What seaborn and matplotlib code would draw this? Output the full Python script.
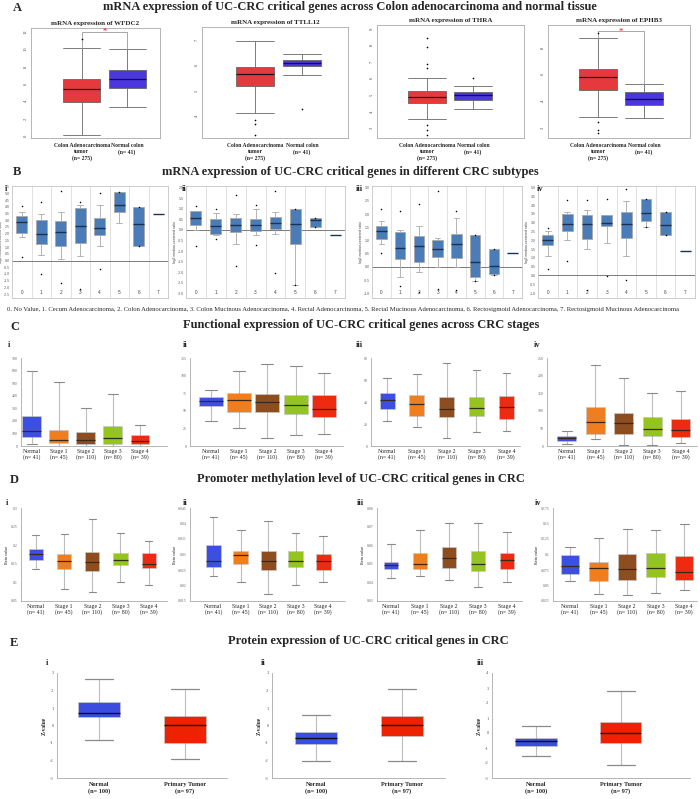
import numpy as np
import pandas as pd
import seaborn as sns
import matplotlib.pyplot as plt

W, H = 700, 799

# ---- A: mRNA expression tumour vs normal  [whisker low, q1, median, q3, whisker high]
A_GROUPS = ["Colon Adenocarcinoma\ntumor\n(n= 275)", "Normal colon\n(n= 41)"]
A_WFDC2 = [[0.15, 3.9, 5.45, 6.6, 10.1], [3.35, 5.5, 6.5, 7.6, 9.95]]
A_TTLL12 = [[4.1, 5.18, 5.64, 5.95, 6.95], [5.63, 5.96, 6.08, 6.2, 6.43]]
A_THRA = [[3.56, 4.5, 4.86, 5.24, 6.0], [4.16, 4.72, 5.02, 5.18, 5.56]]
A_EPHB3 = [[2.8, 4.83, 5.78, 6.38, 8.7], [2.68, 3.68, 4.15, 4.63, 5.25]]
# single points outside the whiskers
A_WFDC2_PTS = [[11.2], []]
A_TTLL12_PTS = [[3.84, 3.7, 3.26], [4.26]]
A_THRA_PTS = [[8.4, 7.9, 6.84, 6.6, 3.2, 2.9, 2.6], [6.0]]
A_EPHB3_PTS = [[9.1, 2.4, 1.8, 1.6], []]

# ---- B: CRC subtypes 0..7
B_GROUPS = ["0", "1", "2", "3", "4", "5", "6", "7"]
B1 = [[1.75, 2.05, 2.9, 3.35, 3.65], [0.4, 1.25, 2.0, 3.0, 3.5], [0.1, 1.1, 2.15, 2.95, 3.65],
      [0.35, 1.3, 2.6, 3.9, 4.1], [1.05, 1.9, 2.4, 3.15, 4.1], [2.8, 3.6, 4.1, 5.1, 5.1],
      [1.1, 1.1, 2.7, 4.0, 4.0], [3.5, 3.5, 3.5, 3.5, 3.5]]
B1_OUT = [[4.05, 0.3], [4.35, -1.0], [5.2, -1.7], [4.35, -2.15], [5.0, -0.65], [5.1], [4.0, 1.1], []]
B2 = [[-0.02, 0.25, 0.57, 0.9, 0.9], [-0.25, -0.18, 0.2, 0.5, 0.8], [-0.65, -0.12, 0.25, 0.55, 0.75],
      [-0.22, -0.05, 0.22, 0.5, 1.0], [-0.18, 0.05, 0.35, 0.6, 0.87], [-2.6, -0.65, 0.28, 0.98, 0.98],
      [0.12, 0.12, 0.45, 0.55, 0.55], [-0.22, -0.22, -0.22, -0.22, -0.22]]
B2_OUT = [[1.12, -0.75], [0.97, -0.42], [1.65, -1.7], [1.18, -0.7], [1.85, -2.05], [-2.6, 0.98], [0.55, 0.12], []]
B3 = [[0.85, 1.05, 1.37, 1.55, 1.75], [-0.38, 0.3, 0.72, 1.33, 1.4], [-0.18, 0.2, 0.77, 1.15, 1.55],
      [-0.02, 0.38, 0.67, 1.02, 1.1], [0.0, 0.33, 0.88, 1.25, 1.85], [-0.52, -0.37, 0.18, 1.22, 1.22],
      [-0.3, -0.28, 0.05, 0.68, 0.68], [0.53, 0.53, 0.53, 0.53, 0.53]]
B3_OUT = [[2.2, 0.52], [2.1, -0.72], [2.38, -0.95], [2.88, -0.85], [2.1, -0.88], [1.22, -0.52], [0.68, -0.3], []]
B4 = [[1.13, 1.72, 2.0, 2.3, 2.5], [2.02, 2.55, 2.9, 3.48, 3.62], [1.5, 2.08, 2.93, 3.42, 3.7],
      [1.83, 2.83, 3.0, 3.42, 3.45], [1.08, 2.15, 2.95, 3.62, 4.2], [2.73, 3.1, 3.57, 4.33, 4.33],
      [2.3, 2.3, 2.85, 3.6, 3.6], [1.38, 1.38, 1.38, 1.38, 1.38]]
B4_OUT = [[2.7, 0.35], [4.3, 0.82], [4.28, -0.85], [4.37, -0.05], [4.9, -0.28], [4.33, 2.73], [3.6, 2.3], []]
B_NOTE = ("0. No Value, 1. Cecum Adenocarcinoma, 2. Colon Adenocarcinoma, 3. Colon Mucinous Adenocarcinoma, "
          "4. Rectal Adenocarcinoma, 5. Rectal Mucinous Adenocarcinoma, 6. Rectosigmoid Adenocarcinoma, "
          "7. Rectosigmoid Mucinous Adenocarcinoma")

# ---- C / D: stages
STAGES = ["Normal\n(n= 41)", "Stage 1\n(n= 45)", "Stage 2\n(n= 110)", "Stage 3\n(n= 80)", "Stage 4\n(n= 39)"]
C1 = [[13, 69, 120, 235, 596], [3, 24, 51, 125, 508], [3, 19, 45, 112, 299], [3, 19, 67, 163, 411], [3, 13, 43, 85, 168]]
C2 = [[36, 57, 64, 69, 79], [26, 48, 66, 75, 107], [12, 48, 62, 74, 116], [16, 46, 58, 72.5, 113.5], [17.6, 41, 52, 72.5, 103.5]]
C3 = [[23, 33.6, 41.8, 48.5, 61.7], [17.4, 27.2, 38.2, 46.4, 65.6], [7.6, 26, 33.6, 44.9, 75.4],
      [12.8, 27.5, 34.5, 44.3, 69], [14, 25, 35.7, 45.8, 66]]
C4 = [[4.8, 15.3, 22, 27.7, 43], [19, 34.4, 67.7, 111.6, 229], [2.9, 34.4, 64, 93.5, 192],
      [3.8, 29.6, 48.7, 81, 150], [8.6, 25.8, 45.8, 78, 155.5]]
D1 = [[0.1355, 0.1615, 0.177, 0.191, 0.228], [0.081, 0.136, 0.158, 0.177, 0.23], [0.075, 0.131, 0.156, 0.181, 0.27],
      [0.102, 0.147, 0.16, 0.179, 0.233], [0.092, 0.138, 0.149, 0.178, 0.21]]
D2 = [[0.023, 0.026, 0.028, 0.033, 0.042], [0.021, 0.027, 0.0299, 0.031, 0.0379], [0.0172, 0.025, 0.028, 0.031, 0.0409],
      [0.0202, 0.026, 0.028, 0.031, 0.0369], [0.021, 0.025, 0.028, 0.0301, 0.036]]
D3 = [[0.0422, 0.0471, 0.0491, 0.0509, 0.0609], [0.0435, 0.0471, 0.05, 0.0559, 0.068], [0.0411, 0.048, 0.053, 0.0591, 0.0719],
      [0.0374, 0.0462, 0.0498, 0.057, 0.0719], [0.0402, 0.0471, 0.052, 0.0559, 0.0669]]
D4 = [[0.0574, 0.0692, 0.0822, 0.0984, 0.1113], [0.0363, 0.058, 0.0779, 0.0887, 0.1264], [0.0347, 0.059, 0.0762, 0.101, 0.1415],
      [0.0374, 0.0638, 0.0779, 0.1027, 0.1394], [0.0422, 0.059, 0.0725, 0.0978, 0.1486]]

# ---- E: protein
E_GROUPS = ["Normal\n(n= 100)", "Primary Tumor\n(n= 97)"]
E1 = [[-0.83, 0.47, 0.71, 1.32, 2.66], [-1.91, -1.0, 0.03, 0.56, 2.09]]
E2 = [[-2.0, -1.06, -0.71, -0.37, 0.6], [-2.03, -0.58, 0.01, 0.56, 2.1]]
E3 = [[-1.56, -0.87, -0.53, -0.33, 0.44], [-2.16, -0.67, 0.0, 0.73, 2.78]]

A_COLORS = ["#E5393D", "#4B37DF"]
B_BLUE = "#4A7DB8"
STAGE_COLORS = ["#3D4FE0", "#F07E1E", "#8E4D1E", "#93C41F", "#EE2A10"]
E_COLORS = ["#3A4DE0", "#EE2200"]

sns.set_theme(style="white")
plt.rcParams["font.family"] = ["Liberation Serif", "DejaVu Serif"]
SANS = ["Liberation Sans", "DejaVu Sans"]

fig = plt.figure(figsize=(7, 7.99), dpi=100)


def rect(l, t, r, b):
    return [l / W, 1 - b / H, (r - l) / W, (b - t) / H]


def ftext(x, y, s, **kw):
    kw.setdefault("va", "center")
    fig.text(x / W, 1 - y / H, s, **kw)


def long_frame(groups, values):
    rows = [(g, v) for g, vs in zip(groups, values) for v in vs]
    return pd.DataFrame(rows, columns=["group", "value"])


def ticks(lo, hi, step):
    return np.round(np.arange(lo, hi + step / 2, step), 4)


# ---------------- A ----------------
def draw_a(box, gene, stats, pts, xlim, ylim, yt, sig=None):
    ax = fig.add_axes(rect(*box))
    sns.boxplot(data=long_frame(A_GROUPS, stats), x="group", y="value", hue="group",
                order=A_GROUPS, hue_order=A_GROUPS, palette=A_COLORS, saturation=1,
                width=0.82, whis=(0, 100), showfliers=False, linecolor="#666666", linewidth=0.6,
                medianprops=dict(color="#151515", linewidth=0.9), capwidths=0.82, legend=False, ax=ax)
    p = long_frame(A_GROUPS, pts)
    sns.stripplot(data=p, x="group", y="value", order=A_GROUPS, color="black", size=1.2,
                  jitter=False, ax=ax)
    if sig is not None:
        ax.plot([0, 0, 1, 1], [stats[0][4], sig, sig, stats[1][4]], color="#999999", lw=0.6)
        ax.text(0.5, sig, "*", color="red", ha="center", va="center", fontsize=6)
    ax.set_xlim(xlim)
    ax.set_ylim(ylim)
    ax.set_yticks(yt)
    ax.set_yticklabels([f"{t:g}" for t in yt], rotation=90, va="center", fontsize=3.3, color="#444444")
    ax.set_xlabel("")
    ax.set_ylabel("")
    ax.tick_params(axis="y", length=1.5, width=0.4, pad=1)
    ax.tick_params(axis="x", length=1.5, width=0.4, pad=2, labelsize=4.1)
    for t in ax.get_xticklabels():
        t.set_fontweight("bold")
        t.set_linespacing(1.25)
    for s in ax.spines.values():
        s.set_color("#aaaaaa")
        s.set_linewidth(0.6)
    ax.set_title(f"mRNA expression of {gene}", fontsize=5, fontweight="bold", pad=2.5)


ftext(13, 8, "A", fontsize=9, fontweight="bold")
ftext(350, 7, "mRNA expression of UC-CRC critical genes across Colon adenocarcinoma and normal tissue",
      fontsize=9, fontweight="bold", ha="center")
draw_a((31, 28, 160, 138), "WFDC2", A_WFDC2, A_WFDC2_PTS, (-1.13, 1.73), (-0.23, 12.41), ticks(0, 12, 2), sig=12.0)
draw_a((202, 27, 348, 138), "TTLL12", A_TTLL12, A_TTLL12_PTS, (-1.13, 1.98), (3.13, 7.51), ticks(4, 7, 1))
draw_a((377, 25, 524, 138), "THRA", A_THRA, A_THRA_PTS, (-1.09, 2.11), (2.42, 9.2), ticks(3, 9, 1))
draw_a((548, 25, 690, 138), "EPHB3", A_EPHB3, A_EPHB3_PTS, (-1.09, 2.0), (1.2, 9.68), ticks(2, 8, 2), sig=9.2)


# ---------------- B ----------------
def draw_b(box, label, lx, stats, outs, ylim, yt):
    ax = fig.add_axes(rect(*box))
    for x in np.arange(0.5, 7.5, 1):
        ax.axvline(x, color="#d4d4d4", lw=0.5, zorder=0)
    ax.axhline(0, color="#7a7a7a", lw=0.7, zorder=0)
    sns.boxplot(data=long_frame(B_GROUPS, stats), x="group", y="value", order=B_GROUPS,
                color=B_BLUE, saturation=1, width=0.55, whis=(0, 100), showfliers=False,
                linecolor="#a8a8a8", linewidth=0.6, capwidths=0.3,
                medianprops=dict(color="#1b3152", linewidth=1.0), ax=ax)
    sns.stripplot(data=long_frame(B_GROUPS, outs), x="group", y="value", order=B_GROUPS,
                  color="black", size=1.1, jitter=False, ax=ax)
    ax.set_xlim(-0.5, 7.5)
    ax.set_ylim(ylim)
    ax.set_yticks(yt)
    ax.set_yticklabels([f"{t:.1f}" for t in yt], fontsize=2.5, color="#555555", family=SANS)
    ax.set_xticks(range(8))
    ax.set_xticklabels(B_GROUPS, fontsize=3.4, color="#444444", family=SANS)
    ax.tick_params(axis="x", length=0, pad=-6)
    ax.tick_params(axis="y", length=1, width=0.4, pad=0.5)
    ax.set_xlabel("")
    ax.set_ylabel("log2 median-centered ratio", fontsize=2.5, labelpad=0.5, family=SANS, color="#444444")
    for s in ax.spines.values():
        s.set_color("#c4c4c4")
        s.set_linewidth(0.6)
    ftext(lx, 189, label, fontsize=6, fontweight="bold")


ftext(13, 172, "B", fontsize=9, fontweight="bold")
ftext(350, 172, "mRNA expression of UC-CRC critical genes in different CRC subtypes",
      fontsize=9, fontweight="bold", ha="center")
draw_b((12, 186, 168, 298), "i", 5, B1, B1_OUT, (-2.79, 5.55), ticks(-2.5, 5.5, 0.5))
draw_b((186, 186, 345, 298), "ii", 182, B2, B2_OUT, (-3.22, 2.08), ticks(-3.0, 2.0, 0.5))
draw_b((372, 186, 522, 298), "iii", 356, B3, B3_OUT, (-1.18, 3.06), ticks(-1.0, 3.0, 0.5))
draw_b((538, 186, 695, 298), "iv", 537, B4, B4_OUT, (-1.28, 5.08), ticks(-1.0, 5.0, 0.5))
ftext(7, 309, B_NOTE, fontsize=4.8, ha="left")


# ---------------- C / D ----------------
def draw_stage(box, label, lxy, stats, xlim, width, ylim, yt, ylabel=None):
    ax = fig.add_axes(rect(*box))
    sns.boxplot(data=long_frame(STAGES, stats), x="group", y="value", hue="group",
                order=STAGES, hue_order=STAGES, palette=STAGE_COLORS, saturation=1,
                width=width, whis=(0, 100), showfliers=False, linecolor="#c8c8c8", linewidth=0.5,
                whiskerprops=dict(color="#8a8a8a", linestyle=(0, (1, 0.8)), linewidth=0.8),
                capprops=dict(color="#8a8a8a", linewidth=0.8), capwidths=width * 0.5,
                medianprops=dict(color="#3a2818", linewidth=0.9), legend=False, ax=ax)
    ax.set_xlim(xlim)
    ax.set_ylim(ylim)
    ax.set_yticks(yt)
    ax.set_yticklabels([f"{t:g}" for t in yt], fontsize=2.8, color="#666666")
    ax.set_xticks(range(5))
    ax.set_xticklabels(STAGES, fontsize=4.2, linespacing=1.2)
    ax.tick_params(axis="x", length=0, pad=2)
    ax.tick_params(axis="y", length=1.5, width=0.4, pad=1, color="#999999")
    ax.set_xlabel("")
    ax.set_ylabel(ylabel if ylabel else "", fontsize=2.8, labelpad=1, family=SANS)
    sns.despine(ax=ax)
    for s in ("left", "bottom"):
        ax.spines[s].set_color("#aaaaaa")
        ax.spines[s].set_linewidth(0.6)
    ftext(lxy[0], lxy[1], label, fontsize=6, fontweight="bold")


ftext(10, 327, "C", fontsize=9, fontweight="bold")
ftext(361, 325, "Functional expression of UC-CRC critical genes across CRC stages",
      fontsize=9, fontweight="bold", ha="center")
draw_stage((21, 358, 167, 446), "i", (8, 345), C1, (-0.4, 5.0), 0.7, (0, 700), ticks(0, 700, 100))
draw_stage((190, 358, 343, 446), "ii", (183, 345), C2, (-0.74, 4.68), 0.85, (0, 125), ticks(0, 125, 25))
draw_stage((371, 358, 520, 446), "iii", (356, 345), C3, (-0.54, 4.46), 0.5, (0, 80), ticks(0, 80, 20))
draw_stage((547, 358, 697, 446), "iv", (534, 345), C4, (-0.7, 4.58), 0.67, (0, 250), ticks(0, 250, 50))

ftext(10, 480, "D", fontsize=9, fontweight="bold")
ftext(361, 479, "Promoter methylation level of UC-CRC critical genes in CRC",
      fontsize=9, fontweight="bold", ha="center")
draw_stage((21, 508, 167, 601), "i", (6, 503), D1, (-0.53, 4.65), 0.5, (0.05, 0.3), ticks(0.05, 0.3, 0.05), "Beta value")
draw_stage((190, 508, 345, 601), "ii", (183, 503), D2, (-0.85, 4.8), 0.55, (0.015, 0.045), ticks(0.015, 0.045, 0.005), "Beta value")
draw_stage((377, 508, 522, 601), "iii", (357, 503), D3, (-0.48, 4.52), 0.5, (0.03, 0.08), ticks(0.03, 0.08, 0.01), "Beta value")
draw_stage((553, 508, 697, 601), "iv", (535, 503), D4, (-0.6, 4.45), 0.65, (0.025, 0.175), ticks(0.025, 0.175, 0.025), "Beta value")


# ---------------- E ----------------
def draw_e(box, label, lx, stats, xlim, ylim, yt):
    ax = fig.add_axes(rect(*box))
    sns.boxplot(data=long_frame(E_GROUPS, stats), x="group", y="value", hue="group",
                order=E_GROUPS, hue_order=E_GROUPS, palette=E_COLORS, saturation=1,
                width=0.49, whis=(0, 100), showfliers=False, linecolor="#c8c8c8", linewidth=0.5,
                whiskerprops=dict(color="#8a8a8a", linestyle=(0, (1, 0.8)), linewidth=0.8),
                capprops=dict(color="#8a8a8a", linewidth=0.9), capwidths=0.33,
                medianprops=dict(color="#111111", linewidth=1.0), legend=False, ax=ax)
    ax.set_xlim(xlim)
    ax.set_ylim(ylim)
    ax.set_yticks(yt)
    ax.set_yticklabels([f"{t:g}" for t in yt], fontsize=3.2, color="#555555")
    ax.set_xticks(range(2))
    ax.set_xticklabels(E_GROUPS, fontsize=4.5, fontweight="bold", linespacing=1.3)
    ax.tick_params(axis="x", length=0, pad=3)
    ax.tick_params(axis="y", length=1.5, width=0.4, pad=1, color="#999999")
    ax.set_xlabel("")
    ax.set_ylabel("Z-value", fontsize=4, fontweight="bold", labelpad=2)
    sns.despine(ax=ax)
    for s in ("left", "bottom"):
        ax.spines[s].set_color("#aaaaaa")
        ax.spines[s].set_linewidth(0.6)
    ftext(lx, 663, label, fontsize=6, fontweight="bold")


ftext(10, 643, "E", fontsize=9, fontweight="bold")
ftext(368, 641, "Protein expression of UC-CRC critical genes in CRC", fontsize=9, fontweight="bold", ha="center")
draw_e((57, 673, 227, 778), "i", 46, E1, (-0.49, 1.49), (-3, 3), ticks(-3, 3, 1))
draw_e((272, 673, 445, 778), "ii", 261, E2, (-0.51, 1.5), (-3, 3), ticks(-3, 3, 1))
draw_e((492, 673, 690, 778), "iii", 477, E3, (-0.52, 1.82), (-3, 4), ticks(-3, 4, 1))

fig.savefig("out.png", dpi=100)
